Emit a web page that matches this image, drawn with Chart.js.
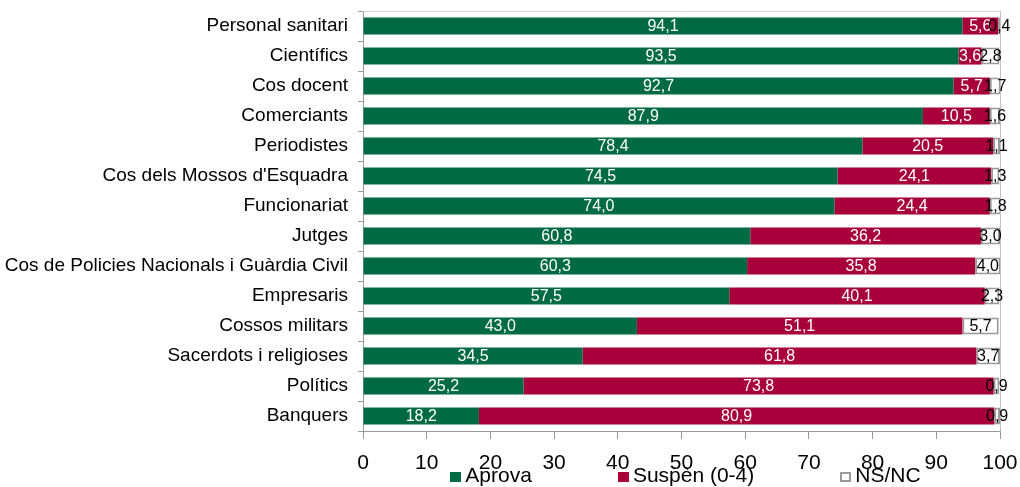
<!DOCTYPE html>
<html>
<head>
<meta charset="utf-8">
<script src="https://cdn.jsdelivr.net/npm/chart.js@4.4.1/dist/chart.umd.min.js"></script>
<style>
    html, body { margin: 0; padding: 0; background: #fff; }
    #wrap { position: relative; width: 1020px; height: 487px; }
    #legend {
        position: absolute; left: 367px; width: 637px; top: 465px;
        display: flex; justify-content: center; gap: 86px;
        font-family: 'Liberation Sans', Arial, sans-serif; font-size: 21px; line-height: 20px; color: #000;
    }
    #legend span.box { display: inline-block; width: 11px; height: 10px; margin-right: 4px; box-sizing: border-box; }
</style>
</head>
<body>
<div id="wrap">
    <canvas id="chart" width="1020" height="487"></canvas>
    <div id="legend"></div>
</div>
<script>
const categories = [
    'Personal sanitari', 'Científics', 'Cos docent', 'Comerciants', 'Periodistes',
    "Cos dels Mossos d'Esquadra", 'Funcionariat', 'Jutges',
    'Cos de Policies Nacionals i Guàrdia Civil', 'Empresaris', 'Cossos militars',
    'Sacerdots i religioses', 'Polítics', 'Banquers'
];
const aprova = [94.1, 93.5, 92.7, 87.9, 78.4, 74.5, 74.0, 60.8, 60.3, 57.5, 43.0, 34.5, 25.2, 18.2];
const suspen = [5.6, 3.6, 5.7, 10.5, 20.5, 24.1, 24.4, 36.2, 35.8, 40.1, 51.1, 61.8, 73.8, 80.9];
const nsnc = [0.4, 2.8, 1.7, 1.6, 1.1, 1.3, 1.8, 3.0, 4.0, 2.3, 5.7, 3.7, 0.9, 0.9];
const seriesNames = ['Aprova', 'Suspèn (0-4)', 'NS/NC'];

const green = '#006a44';
const red = '#a8003a';
const grey = '#9a9a9a';
const font = "'Liberation Sans', Arial, sans-serif";

// value labels centred on every bar segment
const barLabels = {
    id: 'barLabels',
    afterDatasetsDraw(chart) {
        const ctx = chart.ctx;
        ctx.save();
        ctx.font = '16px ' + font;
        ctx.textAlign = 'center';
        ctx.textBaseline = 'middle';
        chart.data.datasets.forEach((ds, i) => {
            ctx.fillStyle = i === 2 ? '#000' : '#fff';
            chart.getDatasetMeta(i).data.forEach((bar, j) => {
                const x = (bar.x + bar.base) / 2;
                ctx.fillText(ds.data[j].toFixed(1).replace('.', ','), x, bar.y + 1);
            });
        });
        ctx.restore();
    }
};

// light frame line along the top of the plot
const topLine = {
    id: 'topLine',
    beforeDatasetsDraw(chart) {
        const { ctx, chartArea } = chart;
        ctx.save();
        ctx.strokeStyle = '#d4d4d4';
        ctx.lineWidth = 1;
        ctx.beginPath();
        ctx.moveTo(chartArea.left, chartArea.top + 0.5);
        ctx.lineTo(chartArea.right, chartArea.top + 0.5);
        ctx.stroke();
        ctx.restore();
    }
};

new Chart(document.getElementById('chart'), {
    type: 'bar',
    data: {
        labels: categories,
        datasets: [
            { label: seriesNames[0], data: aprova, backgroundColor: green, borderWidth: 0 },
            { label: seriesNames[1], data: suspen, backgroundColor: red, borderWidth: 0 },
            { label: seriesNames[2], data: nsnc, backgroundColor: '#fff', borderColor: grey, borderWidth: 2, borderSkipped: false }
        ]
    },
    options: {
        indexAxis: 'y',
        responsive: false,
        animation: false,
        layout: { padding: { left: 0, right: 20, top: 11, bottom: 0 } },
        datasets: { bar: { barPercentage: 0.57, categoryPercentage: 1 } },
        plugins: {
            legend: { display: false },
            tooltip: { enabled: false }
        },
        scales: {
            x: {
                stacked: true,
                min: 0,
                max: 100,
                ticks: { stepSize: 10, color: '#000', font: { family: font, size: 21 }, padding: 12 },
                grid: {
                    color: c => c.tick && c.tick.value === 100 ? '#c4c4c4' : 'transparent',
                    tickColor: grey,
                    tickLength: 8
                },
                border: { color: grey, width: 1 },
                afterFit: scale => {
                    scale.height = 56;
                    scale.paddingLeft = 0;
                    scale.paddingRight = 0;
                }
            },
            y: {
                stacked: true,
                ticks: { color: '#000', font: { family: font, size: 19 }, padding: 10 },
                grid: { drawOnChartArea: false, color: grey, tickLength: 5 },
                border: { color: grey, width: 1 },
                afterFit: scale => {
                    scale.width = 363;
                    scale.paddingTop = 0;
                    scale.paddingBottom = 0;
                }
            }
        }
    },
    plugins: [barLabels, topLine]
});

// legend below the axis
const legendColors = [[green, green], [red, red], ['#fff', grey]];
const legend = document.getElementById('legend');
seriesNames.forEach((name, i) => {
    const item = document.createElement('div');
    const box = document.createElement('span');
    box.className = 'box';
    box.style.background = legendColors[i][0];
    if (i === 2) box.style.border = '2px solid ' + grey;
    item.appendChild(box);
    item.appendChild(document.createTextNode(name));
    legend.appendChild(item);
});
</script>
</body>
</html>
